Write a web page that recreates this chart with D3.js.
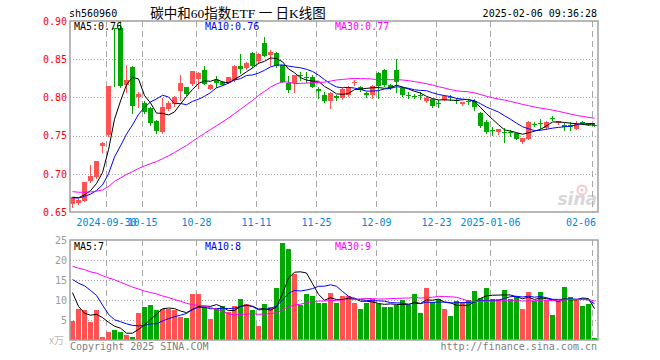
<!DOCTYPE html>
<html><head><meta charset="utf-8">
<script src="https://cdn.jsdelivr.net/npm/d3@7"></script>
<style>
html,body{margin:0;padding:0;background:#fff;}
svg{display:block;}
text{font-family:"DejaVu Sans Mono",monospace;font-size:10px;}
</style></head><body>
<svg id="chart" width="660" height="360"></svg>
<script>
// ---------------- data ----------------
const dates = ["2024-09-20","2024-09-23","2024-09-24","2024-09-25","2024-09-26","2024-09-27","2024-09-30",
"2024-10-08","2024-10-09","2024-10-10","2024-10-11","2024-10-14","2024-10-15","2024-10-16","2024-10-17","2024-10-18",
"2024-10-21","2024-10-22","2024-10-23","2024-10-24","2024-10-25","2024-10-28","2024-10-29","2024-10-30","2024-10-31",
"2024-11-01","2024-11-04","2024-11-05","2024-11-06","2024-11-07","2024-11-08","2024-11-11","2024-11-12","2024-11-13",
"2024-11-14","2024-11-15","2024-11-18","2024-11-19","2024-11-20","2024-11-21","2024-11-22","2024-11-25","2024-11-26",
"2024-11-27","2024-11-28","2024-11-29","2024-12-02","2024-12-03","2024-12-04","2024-12-05","2024-12-06","2024-12-09",
"2024-12-10","2024-12-11","2024-12-12","2024-12-13","2024-12-16","2024-12-17","2024-12-18","2024-12-19","2024-12-20",
"2024-12-23","2024-12-24","2024-12-25","2024-12-26","2024-12-27","2024-12-30","2024-12-31","2025-01-02","2025-01-03",
"2025-01-06","2025-01-07","2025-01-08","2025-01-09","2025-01-10","2025-01-13","2025-01-14","2025-01-15","2025-01-16",
"2025-01-17","2025-01-20","2025-01-21","2025-01-22","2025-01-23","2025-01-24","2025-01-27","2025-02-05","2025-02-06"];

const open = [0.661,0.662,0.665,0.6904,0.6956,0.737,0.751,0.8905,0.8907,0.816,
0.840,0.801,0.793,0.786,0.769,0.755,0.785,0.791,0.808,0.813,
0.817,0.824,0.836,0.8116,0.8229,0.8207,0.8194,0.8229,0.8413,0.8382,
0.8587,0.847,0.8718,0.8557,0.8587,0.8426,0.8185,0.8185,0.829,0.8265,
0.8273,0.811,0.8032,0.7953,0.8019,0.7997,0.8032,0.8198,0.8141,0.8054,
0.8032,0.8325,0.836,0.8163,0.836,0.812,0.8025,0.8015,0.8032,0.7953,
0.7975,0.7928,0.7966,0.8005,0.797,0.791,0.7948,0.7953,0.780,0.7673,
0.7578,0.7542,0.7546,0.7546,0.7529,0.742,0.7455,0.7651,0.7664,0.7594,
0.7735,0.766,0.7638,0.7638,0.759,0.7674,0.7651,0.7642];
const high = [0.6695,0.667,0.6895,0.712,0.7165,0.742,0.8155,0.891,0.900,0.8426,
0.8415,0.8076,0.795,0.787,0.771,0.799,0.795,0.802,0.8295,0.8135,
0.835,0.833,0.8413,0.817,0.8282,0.821,0.827,0.842,0.857,0.846,
0.859,0.858,0.8797,0.8622,0.859,0.843,0.8281,0.8294,0.833,0.833,
0.829,0.8141,0.8068,0.8076,0.803,0.8125,0.815,0.8229,0.815,0.807,
0.8165,0.8335,0.837,0.8175,0.850,0.813,0.8076,0.8045,0.8076,0.800,
0.7985,0.7966,0.8032,0.8032,0.7988,0.794,0.7966,0.798,0.781,0.7704,
0.7616,0.759,0.7594,0.7573,0.7535,0.7468,0.7685,0.7682,0.7717,0.7686,
0.7757,0.7695,0.766,0.7681,0.769,0.7686,0.767,0.766];
const low = [0.656,0.660,0.6638,0.689,0.695,0.729,0.750,0.815,0.814,0.8076,
0.779,0.788,0.779,0.764,0.754,0.754,0.783,0.789,0.797,0.8035,
0.816,0.812,0.817,0.811,0.8142,0.816,0.819,0.822,0.8317,0.837,
0.840,0.8448,0.854,0.8426,0.840,0.820,0.8067,0.8067,0.823,0.8207,
0.8135,0.7988,0.7936,0.7866,0.797,0.7985,0.802,0.8163,0.809,0.801,
0.7988,0.7988,0.815,0.811,0.8076,0.802,0.7988,0.799,0.798,0.794,
0.788,0.788,0.796,0.7966,0.7923,0.790,0.791,0.7835,0.7615,0.7529,
0.7507,0.752,0.742,0.7498,0.745,0.7406,0.745,0.7621,0.7603,0.759,
0.7708,0.7655,0.7575,0.7568,0.7585,0.7647,0.7635,0.7625];
const close = [0.669,0.666,0.689,0.6965,0.7161,0.740,0.815,0.8895,0.8154,0.823,
0.789,0.804,0.781,0.767,0.756,0.788,0.793,0.801,0.819,0.805,
0.834,0.8325,0.818,0.8159,0.8186,0.8164,0.8264,0.8413,0.8378,0.8456,
0.8413,0.857,0.8544,0.860,0.8413,0.8207,0.8098,0.8294,0.828,0.8255,
0.8141,0.8085,0.7953,0.8063,0.7988,0.8111,0.8141,0.8207,0.8098,0.8032,
0.8154,0.815,0.8163,0.8128,0.8207,0.8032,0.8019,0.801,0.8019,0.7988,
0.7892,0.7923,0.8019,0.8001,0.7966,0.7936,0.7944,0.7879,0.7625,0.755,
0.7573,0.7586,0.7542,0.7542,0.7455,0.7463,0.7682,0.7647,0.766,0.7682,
0.7717,0.769,0.7612,0.7612,0.7647,0.767,0.7647,0.7638];
// volume, unit: 万
const volume = [4.83,7.75,7.5,4.5,7.5,0.75,2.0,2.5,2.0,1.25,
0.75,6.75,8.25,8.75,7.5,7.75,7.75,7.5,5.75,5.5,
11.5,11.5,8.25,5.25,7.75,8.5,7.0,8.5,10.25,9.0,
7.5,3.5,9.0,8.25,13.0,24.25,22.75,16.5,8.75,11.5,
11.0,9.25,9.25,11.8,9.3,11.0,11.0,9.3,7.8,9.3,
10.2,9.0,8.3,8.3,8.7,10.0,8.75,11.5,6.8,13.1,
9.5,10.2,7.8,6.0,9.8,9.6,10.0,12.25,10.4,13.0,
10.3,10.2,12.5,10.25,10.8,7.8,12.1,9.75,12.1,10.0,
6.3,9.8,13.3,10.8,10.0,8.6,9.1,0.6];
// estimated sessions just before the visible window (where the MA lines start)
const priorCloses = [0.690,0.688,0.687,0.689,0.686,0.684,0.685,0.683,0.682,0.680,
0.681,0.679,0.678,0.676,0.677,0.675,0.674,0.676,0.673,0.671,
0.669,0.668,0.667,0.668,0.667,0.670,0.669,0.670,0.669];
const priorVolumes = [22,18,21,17,20,19,16,22,18,19.5,
21,24,19,18,23,20,22,19,21,22,
17,14,16,20,25,25,16,7,6.4];

const priceTicks = [0.65,0.70,0.75,0.80,0.85,0.90];
const volumeTicks = [5,10,15,20,25];
const dateTicks = ["2024-09-30","2024-10-15","2024-10-28","2024-11-11","2024-11-25","2024-12-09","2024-12-23","2025-01-06","2025-02-06"];
const dateTickLabels = ["2024-09-30","10-15","10-28","11-11","11-25","12-09","12-23","2025-01-06","02-06"];
const titleCode = "sh560960";
const titleName = "碳中和60指数ETF 一 日K线图";
const timeStamp = "2025-02-06 09:36:28";
const priceMaLabels = ["MA5:0.76","MA10:0.76","MA30:0.77"];
const volMaLabels = ["MA5:7","MA10:8","MA30:9"];

// ---------------- layout ----------------
const svg = d3.select("#chart");
const X0 = 70, X1 = 598, PT = 21, PB = 212, VT = 240, VB = 340;
const RED = "#ff5252", GREEN = "#00a800";
const MA_COLORS = ["#000000","#0000ff","#ff00ff"];
const GRID = "#a8a8a8";

const x = d3.scaleBand().domain(dates).range([X0, X1]).paddingInner(0).paddingOuter(0);
const y = d3.scaleLinear().domain([0.65, 0.90]).range([PB, PT]);
const yv = d3.scaleLinear().domain([0, 25]).range([VB, VT]);
const bw = x.bandwidth();

function movingAvg(vals, prior, n) {
  const all = prior.concat(vals);
  return vals.map((_, i) => {
    const j = i + prior.length;
    return d3.mean(all.slice(j - n + 1, j + 1));
  });
}
const priceMA = [5,10,30].map(n => movingAvg(close, priorCloses, n));
const volMA = [5,10,30].map(n => movingAvg(volume, priorVolumes, n));
const isUp = dates.map((d,i) => close[i] >= open[i]);

// clip paths
const defs = svg.append("defs");
defs.append("clipPath").attr("id","clipP").append("rect").attr("x",X0).attr("y",PT).attr("width",X1-X0).attr("height",PB-PT);
defs.append("clipPath").attr("id","clipV").append("rect").attr("x",X0).attr("y",VT).attr("width",X1-X0).attr("height",VB-VT);

// ---------------- grids ----------------
const grid = svg.append("g");
priceTicks.slice(1,-1).forEach(t => {
  const yy = Math.round(y(t)) + 0.5;
  grid.append("line").attr("x1",X0).attr("x2",X1).attr("y1",yy).attr("y2",yy)
    .attr("stroke",GRID).attr("stroke-dasharray","1,2");
});
volumeTicks.slice(0,-1).forEach(t => {
  const yy = Math.round(yv(t)) + 0.5;
  grid.append("line").attr("x1",X0).attr("x2",X1).attr("y1",yy).attr("y2",yy)
    .attr("stroke",GRID).attr("stroke-dasharray","1,2");
});
dateTicks.forEach(d => {
  const xx = x(d) + 0.5;
  grid.append("line").attr("x1",xx).attr("x2",xx).attr("y1",PT).attr("y2",PB)
    .attr("stroke",GRID).attr("stroke-dasharray","6,4");
  grid.append("line").attr("x1",xx).attr("x2",xx).attr("y1",VT).attr("y2",VB)
    .attr("stroke",GRID).attr("stroke-dasharray","6,4");
});

// watermark
const wm = svg.append("g").attr("opacity",0.55);
wm.append("circle").attr("cx",582).attr("cy",190).attr("r",4.5).attr("fill","none").attr("stroke","#f0a0a0").attr("stroke-width",2);
wm.append("circle").attr("cx",582).attr("cy",190).attr("r",1.5).attr("fill","#b0b0b0");
wm.append("text").attr("x",597).attr("y",205).attr("text-anchor","end")
  .style("font-family","DejaVu Sans").style("font-size","17px").style("font-style","italic").style("font-weight","bold")
  .attr("fill","#b8b8b8").text("sina");

// ---------------- candles ----------------
const cg = svg.append("g").attr("clip-path","url(#clipP)");
const candles = cg.selectAll("g.c").data(dates).join("g").attr("class","c");
candles.append("line")
  .attr("x1", d => x(d) + 2.5).attr("x2", d => x(d) + 2.5)
  .attr("y1", (d,i) => Math.round(y(high[i])))
  .attr("y2", (d,i) => Math.round(y(low[i])) + 1)
  .attr("stroke", (d,i) => isUp[i] ? RED : GREEN).attr("stroke-width",1);
candles.append("rect")
  .attr("x", d => x(d)).attr("width", bw - 1)
  .attr("y", (d,i) => Math.round(y(Math.max(open[i], close[i]))))
  .attr("height", (d,i) => Math.max(1, Math.round(y(Math.min(open[i], close[i]))) - Math.round(y(Math.max(open[i], close[i])))))
  .attr("fill", (d,i) => isUp[i] ? RED : GREEN);

const lineP = d3.line().x((v,i) => x(dates[i]) + 2.5).y(v => y(v));
priceMA.forEach((arr, k) => {
  cg.append("path").attr("d", lineP(arr)).attr("fill","none").attr("stroke",MA_COLORS[k]).attr("stroke-width",1);
});

// ---------------- volume ----------------
const vg = svg.append("g").attr("clip-path","url(#clipV)");
vg.selectAll("rect.v").data(dates).join("rect").attr("class","v")
  .attr("x", d => x(d)).attr("width", bw - 1)
  .attr("y", (d,i) => Math.round(yv(volume[i])))
  .attr("height", (d,i) => VB - Math.round(yv(volume[i])))
  .attr("fill", (d,i) => isUp[i] ? RED : GREEN);
const lineV = d3.line().x((v,i) => x(dates[i]) + 2.5).y(v => yv(v));
volMA.forEach((arr, k) => {
  vg.append("path").attr("d", lineV(arr)).attr("fill","none").attr("stroke",MA_COLORS[k]).attr("stroke-width",1);
});

// ---------------- frames ----------------
svg.append("rect").attr("x",X0).attr("y",PT).attr("width",X1-X0).attr("height",PB-PT)
  .attr("fill","none").attr("stroke","#a0a0a0").attr("stroke-width",1.5);
svg.append("rect").attr("x",X0).attr("y",VT).attr("width",X1-X0).attr("height",VB-VT)
  .attr("fill","none").attr("stroke","#a0a0a0").attr("stroke-width",1.5);

// ---------------- axes ----------------
const ay = svg.append("g").attr("transform",`translate(68,0)`)
  .call(d3.axisLeft(y).tickValues(priceTicks).tickFormat(d3.format(".2f")).tickSize(0).tickPadding(1));
ay.select(".domain").remove();
ay.selectAll("text").attr("fill","#ff0000").style("font-family","DejaVu Sans Mono").style("font-size","10px");

const av = svg.append("g").attr("transform",`translate(68,0)`)
  .call(d3.axisLeft(yv).tickValues(volumeTicks).tickFormat(d3.format("d")).tickSize(0).tickPadding(1));
av.select(".domain").remove();
av.selectAll("text").attr("fill","#9a9a9a").style("font-family","DejaVu Sans Mono").style("font-size","10px");
svg.append("text").attr("x",64).attr("y",344).attr("text-anchor","end").attr("fill","#b8b8b8")
  .style("font-family","'Noto Sans CJK SC',sans-serif").style("font-size","10px").text("x万");

dateTicks.forEach((d,i) => {
  const lbl = dateTickLabels[i];
  const cx = x(d) + 0.5;
  const w = lbl.length * 6.02;
  const t = svg.append("text").attr("y",226).attr("fill","#0088dd").text(lbl);
  if (cx + w/2 > X1 - 1) t.attr("x", X1 - 2).attr("text-anchor","end");
  else t.attr("x", cx).attr("text-anchor","middle");
});

// ---------------- texts ----------------
svg.append("text").attr("x",69).attr("y",17).attr("fill","#000").text(titleCode);
svg.append("text").attr("x",238).attr("y",18).attr("text-anchor","middle").attr("fill","#000")
  .style("font-family","'Liberation Serif','Noto Sans CJK SC',serif").style("font-size","13.5px").text(titleName);
svg.append("text").attr("x",597).attr("y",16.5).attr("text-anchor","end").attr("fill","#000").text(timeStamp);

const maX = [74, 205, 335];
priceMaLabels.forEach((s,k) => {
  svg.append("text").attr("x",maX[k]).attr("y",30).attr("fill",MA_COLORS[k]).text(s);
});
volMaLabels.forEach((s,k) => {
  svg.append("text").attr("x",maX[k]).attr("y",249.5).attr("fill",MA_COLORS[k]).text(s);
});
svg.append("text").attr("x",70).attr("y",349.5).attr("fill","#808080").text("Copyright 2025 SINA.COM");
svg.append("text").attr("x",597).attr("y",349.5).attr("text-anchor","end").attr("fill","#808080").text("http://finance.sina.com.cn");
</script>
</body></html>
